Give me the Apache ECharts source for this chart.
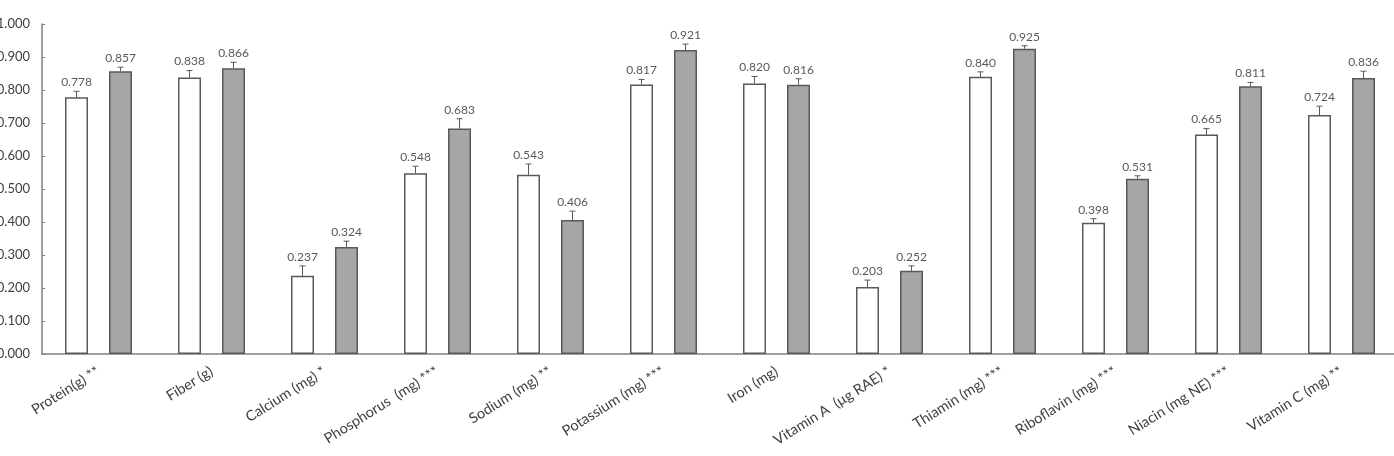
<!DOCTYPE html>
<html>
<head>
<meta charset="utf-8">
<script src="https://cdn.jsdelivr.net/npm/echarts@6/dist/echarts.min.js"></script>
<style>
  html, body { margin: 0; padding: 0; background: #fff; }
  #chart { width: 1394px; height: 456px; }
</style>
</head>
<body>
<div id="chart"></div>
<script>
const categories = [
  "Protein(g) **", "Fiber (g)", "Calcium (mg) *", "Phosphorus  (mg) ***",
  "Sodium (mg) **", "Potassium (mg) ***", "Iron (mg)", "Vitamin A  (μg RAE) *",
  "Thiamin (mg) ***", "Riboflavin (mg) ***", "Niacin (mg NE) ***", "Vitamin C (mg) **"
];
const whiteValues = [0.778, 0.838, 0.237, 0.548, 0.543, 0.817, 0.820, 0.203, 0.840, 0.398, 0.665, 0.724];
const whiteErrors = [0.018, 0.021, 0.030, 0.021, 0.033, 0.015, 0.021, 0.021, 0.015, 0.012, 0.018, 0.027];
const grayValues = [0.857, 0.866, 0.324, 0.683, 0.406, 0.921, 0.816, 0.252, 0.925, 0.531, 0.811, 0.836];
const grayErrors = [0.012, 0.018, 0.018, 0.030, 0.027, 0.018, 0.018, 0.015, 0.009, 0.009, 0.012, 0.021];
const yTicks = [0, 0.1, 0.2, 0.3, 0.4, 0.5, 0.6, 0.7, 0.8, 0.9, 1.0];

const FONT = "Lato, 'Open Sans', sans-serif";
const BAR_W = 23;
const BAR_GAP = 21;
const EDGE = "#595959";

function errorSeries(values, errors, side) {
  return {
    type: "custom",
    z: 5,
    data: values.map((v, i) => [i, v, errors[i]]),
    renderItem(params, api) {
      const idx = api.value(0);
      const val = api.value(1);
      const err = api.value(2);
      const base = api.coord([idx, val]);
      const top = api.coord([idx, val + err]);
      const x = base[0] + side * (BAR_W + BAR_GAP) / 2;
      return {
        type: "group",
        children: [
          { type: "line", shape: { x1: x, y1: base[1], x2: x, y2: top[1] },
            style: { stroke: EDGE, lineWidth: 1 } },
          { type: "line", shape: { x1: x - 3, y1: top[1], x2: x + 3, y2: top[1] },
            style: { stroke: EDGE, lineWidth: 1 } },
          { type: "text", style: {
              text: val.toFixed(3), x: x, y: top[1] - 3,
              textAlign: "center", textVerticalAlign: "bottom",
              fill: "#595959", font: "12px " + FONT } }
        ]
      };
    }
  };
}

const chart = echarts.init(document.getElementById("chart"));
chart.setOption({
  animation: false,
  grid: { left: 42, right: -4, top: 24, bottom: 102, outerBoundsMode: "none" },
  xAxis: {
    type: "category",
    data: categories,
    axisLine: { lineStyle: { color: "#808080", width: 1.5 } },
    axisTick: { show: false },
    axisLabel: { interval: 0, rotate: 32, margin: 16, fontSize: 14.5, fontFamily: FONT, color: "#404040" }
  },
  yAxis: {
    type: "value",
    min: yTicks[0],
    max: yTicks[yTicks.length - 1],
    interval: 0.1,
    splitLine: { show: false },
    axisLine: { show: true, lineStyle: { color: "#808080", width: 1.5 } },
    axisTick: { show: true, inside: true, length: 3, lineStyle: { color: "#808080" } },
    axisLabel: { margin: 12, fontSize: 13, fontFamily: FONT, color: "#404040",
      formatter: v => v.toFixed(3) }
  },
  series: [
    { type: "bar", data: whiteValues, barWidth: BAR_W, barGap: (BAR_GAP / BAR_W * 100) + "%",
      itemStyle: { color: "#ffffff", borderColor: EDGE, borderWidth: 1.5 } },
    { type: "bar", data: grayValues, barWidth: BAR_W,
      itemStyle: { color: "#a6a6a6", borderColor: EDGE, borderWidth: 1.5 } },
    errorSeries(whiteValues, whiteErrors, -1),
    errorSeries(grayValues, grayErrors, 1)
  ]
});
</script>
</body>
</html>
